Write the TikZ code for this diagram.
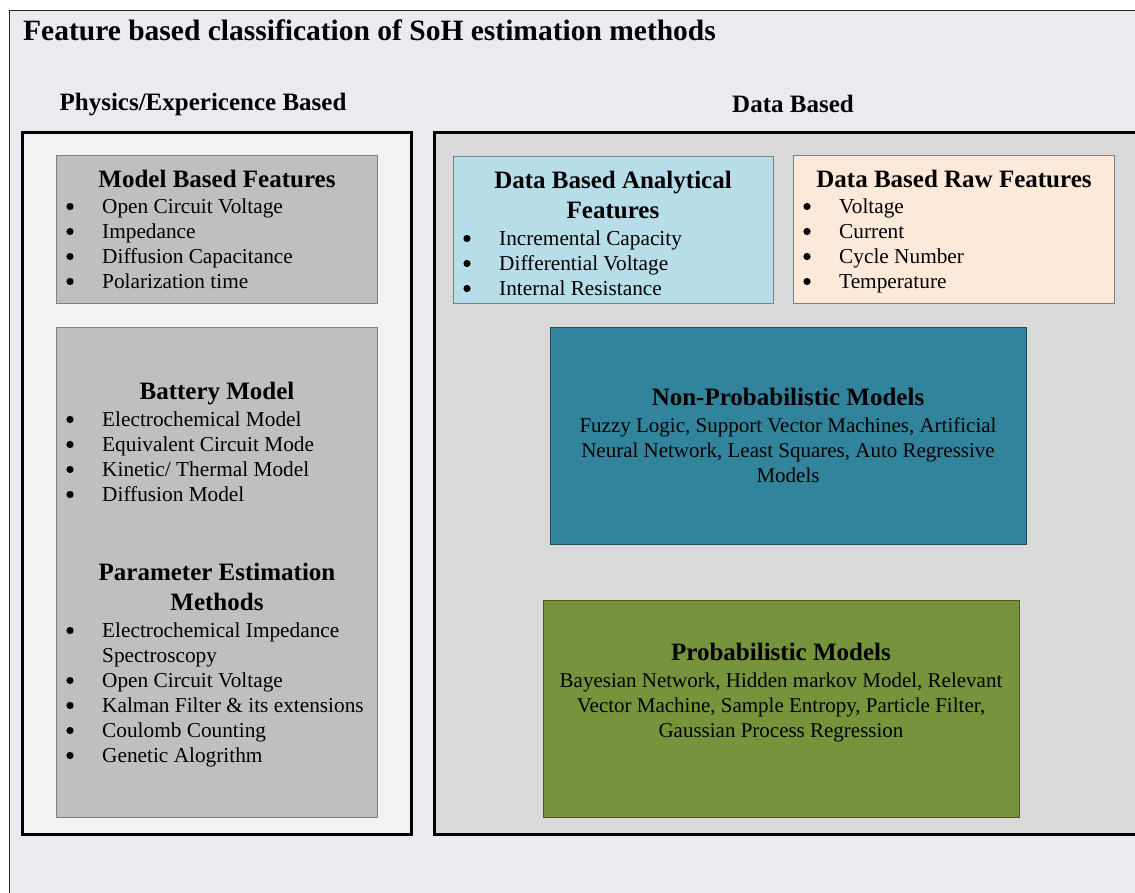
\documentclass[tikz,border=0pt]{standalone}
\usepackage{fontspec}
\setmainfont{Liberation Serif}
\usepackage{tikz}

\definecolor{outerbg}{HTML}{ECEAF1}
\definecolor{physbg}{HTML}{F2F2F2}
\definecolor{databg}{HTML}{D9D9D9}
\definecolor{modelgray}{HTML}{BFBFBF}
\definecolor{analblue}{HTML}{B7DEE8}
\definecolor{rawpeach}{HTML}{FDE9D9}
\definecolor{nonprobteal}{HTML}{31849B}
\definecolor{probgreen}{HTML}{77933C}

\begin{document}
\begin{tikzpicture}[x=1pt,y=-1pt,
  panel/.style={draw=black,line width=3pt},
  featbox/.style={draw=black!50,line width=0.8pt},
  titletext/.style={anchor=base west,inner sep=0pt,font=\fontsize{29.5}{32}\selectfont\bfseries},
  grouptext/.style={anchor=base,font=\fontsize{25}{30}\selectfont\bfseries},
  headtext/.style={anchor=base,font=\fontsize{25}{30}\selectfont\bfseries},
  bodytext/.style={anchor=base,font=\fontsize{21}{25}\selectfont},
  itemtext/.style={anchor=base west,inner sep=0pt,font=\fontsize{21.3}{25}\selectfont}]
  \useasboundingbox[fill=white] (0,0) rectangle (1135,892);
  \draw[fill=outerbg,line width=1.5pt,draw=black!85] (9.5,10.5) rectangle (1150,900);

  \node[titletext] (title) at (23,40) {Feature based classification of SoH estimation methods};

  % physics / experience side
  \node[grouptext] (physlabel) at (203,110) {Physics/Expericence Based};
  \draw[panel,fill=physbg] (22,132) rectangle (411,834);

  \draw[featbox,fill=modelgray] (56,155) rectangle (377,303);
  \node[headtext] (mbfhead) at (217,187) {Model Based Features};
  \node[itemtext] (mbf1) at (102,213) {Open Circuit Voltage};
  \node[itemtext] (mbf2) at (102,238) {Impedance};
  \node[itemtext] (mbf3) at (102,263) {Diffusion Capacitance};
  \node[itemtext] (mbf4) at (102,288) {Polarization time};

  \draw[featbox,fill=modelgray] (56,327) rectangle (377,817);
  \node[headtext] (bmhead) at (217,399) {Battery Model};
  \node[itemtext] (bm1) at (102,426) {Electrochemical Model};
  \node[itemtext] (bm2) at (102,451) {Equivalent Circuit Mode};
  \node[itemtext] (bm3) at (102,476) {Kinetic/ Thermal Model};
  \node[itemtext] (bm4) at (102,501) {Diffusion Model};

  \node[headtext] (pehead) at (217,580) {Parameter Estimation};
  \node[headtext] (pehead2) at (217,610) {Methods};
  \node[itemtext] (pe1) at (102,637) {Electrochemical Impedance};
  \node[itemtext] (pe1b) at (102,662) {Spectroscopy};
  \node[itemtext] (pe2) at (102,687) {Open Circuit Voltage};
  \node[itemtext] (pe3) at (102,712) {Kalman Filter \& its extensions};
  \node[itemtext] (pe4) at (102,737) {Coulomb Counting};
  \node[itemtext] (pe5) at (102,762) {Genetic Alogrithm};

  % bullets of the left lists
  \foreach \y in {213,238,263,288,426,451,476,501,637,687,712,737,762}
    \fill (70,\y-6.5) circle (3.6);

  % data side
  \node[grouptext] (datalabel) at (793,112) {Data Based};
  \draw[panel,fill=databg] (434,132) rectangle (1136,834);

  \draw[featbox,fill=analblue] (453,156) rectangle (773,303);
  \node[headtext] (dbahead) at (613,188) {Data Based Analytical};
  \node[headtext] (dbahead2) at (613,218) {Features};
  \node[itemtext] (dba1) at (499,245) {Incremental Capacity};
  \node[itemtext] (dba2) at (499,270) {Differential Voltage};
  \node[itemtext] (dba3) at (499,295) {Internal Resistance};

  \draw[featbox,fill=rawpeach] (793,155) rectangle (1114,303);
  \node[headtext] (dbrhead) at (954,187) {Data Based Raw Features};
  \node[itemtext] (dbr1) at (839,213) {Voltage};
  \node[itemtext] (dbr2) at (839,238) {Current};
  \node[itemtext] (dbr3) at (839,263) {Cycle Number};
  \node[itemtext] (dbr4) at (839,288) {Temperature};

  % bullets of the right lists
  \foreach \y in {245,270,295}
    \fill (467,\y-6.5) circle (3.6);
  \foreach \y in {213,238,263,288}
    \fill (807,\y-6.5) circle (3.6);

  \draw[featbox,fill=nonprobteal,draw=nonprobteal!60!black] (550,327) rectangle (1026,544);
  \node[headtext] (nphead) at (788,405) {Non-Probabilistic Models};
  \node[bodytext] (np1) at (788,432) {Fuzzy Logic, Support Vector Machines, Artificial};
  \node[bodytext] (np2) at (788,457) {Neural Network, Least Squares, Auto Regressive};
  \node[bodytext] (np3) at (788,482) {Models};

  \draw[featbox,fill=probgreen,draw=probgreen!60!black] (543,600) rectangle (1019,817);
  \node[headtext] (phead) at (781,660) {Probabilistic Models};
  \node[bodytext] (p1) at (781,687) {Bayesian Network, Hidden markov Model, Relevant};
  \node[bodytext] (p2) at (781,712) {Vector Machine, Sample Entropy, Particle Filter,};
  \node[bodytext] (p3) at (781,737) {Gaussian Process Regression};
\end{tikzpicture}
\end{document}
